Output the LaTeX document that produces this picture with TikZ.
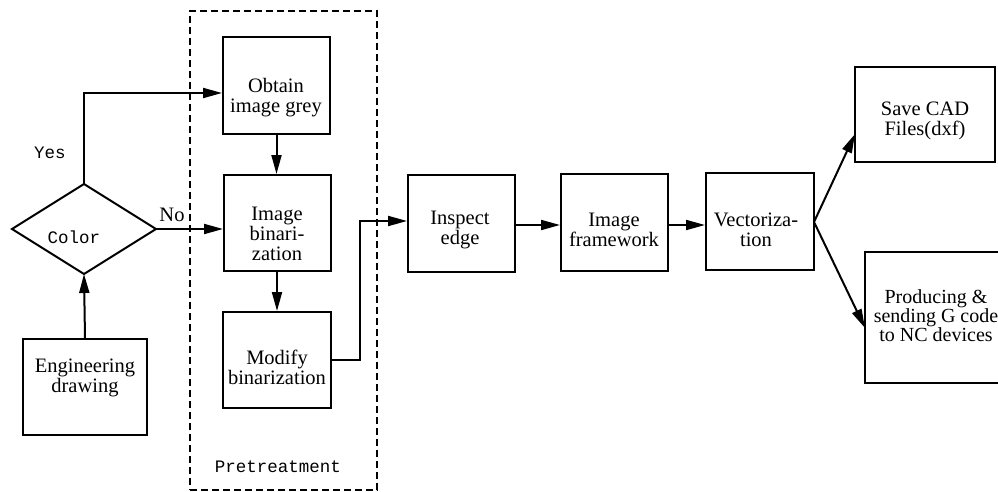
\documentclass[tikz,border=0pt]{standalone}
\usepackage{fontspec}
\setmainfont{Liberation Serif}
\newfontfamily\monofnt{Liberation Mono}
\usetikzlibrary{arrows.meta,calc}
\begin{document}
\begin{tikzpicture}[x=1pt,y=-1pt,
  box/.style={draw, line width=2pt, rectangle, inner sep=0pt},
  lbl/.style={align=center, font=\fontsize{20.5}{20}\selectfont, inner sep=0pt},
  mono/.style={font=\monofnt\fontsize{17.5}{20}\selectfont, inner sep=0pt, anchor=base},
  arr/.style={line width=2pt, -{Triangle[length=19pt,width=10pt]}},
  conn/.style={line width=2pt}]
\useasboundingbox (0,0) rectangle (998,492);
\clip (0,0) rectangle (998,492);

% dashed pretreatment frame
\node[draw, line width=2pt, dash pattern=on 7pt off 4pt, inner sep=0pt,
      minimum width=187pt, minimum height=479pt] (pre) at (283.5,250.5) {};
\node[mono] (tpre) at (278,472) {Pretreatment};

% boxes
\node[box, minimum width=107pt, minimum height=97pt] (obt) at (276.5,85.5) {};
\node[box, minimum width=107pt, minimum height=96pt] (bin) at (277.5,223) {};
\node[box, minimum width=108pt, minimum height=96pt] (mod) at (277,360) {};
\node[box, minimum width=124pt, minimum height=96pt] (eng) at (85,387) {};
\node[box, minimum width=107pt, minimum height=97pt] (insp) at (461.5,223.5) {};
\node[box, minimum width=107pt, minimum height=97pt] (frame) at (614.5,222.5) {};
\node[box, minimum width=108pt, minimum height=97pt] (vec) at (760,221.5) {};
\node[box, minimum width=140pt, minimum height=95pt] (save) at (925,114.5) {};
\node[box, minimum width=142pt, minimum height=131pt] (prod) at (936,317.5) {};

% texts
\node[lbl] (tobt) at (276,97.5) {Obtain\\image grey};
\node[lbl] (tbin) at (277,233.5) {Image\\binari-\\zation};
\node[lbl] (tmod) at (277,367) {Modify\\binarization};
\node[lbl] (teng) at (85,378) {Engineering\\drawing};
\node[lbl] (tinsp) at (460,230) {Inspect\\edge};
\node[lbl] (tframe) at (614,230) {Image\\framework};
\node[lbl] (tvec) at (756,230) {Vectoriza-\\tion};
\node[lbl] (tsave) at (925,120.5) {Save CAD\\Files(dxf)};
\node[lbl, font=\fontsize{20}{18}\selectfont] (tprod) at (936,315.5) {Producing \&\\sending G code\\to NC devices};

% diamond
\coordinate (dc) at (84,229);
\coordinate (dtop) at (84,184);
\coordinate (dbot) at (84,274);
\coordinate (dleft) at (12,229);
\coordinate (dright) at (156,229);
\draw[line width=2pt, line join=miter] (dtop) -- (dright) -- (dbot) -- (dleft) -- cycle;
\node[mono] (tcol) at (74,243) {Color};
\node[mono] (tyes) at (50,158) {Yes};
\node[lbl, anchor=base] (tno) at (172,221) {No};

% connectors
\coordinate (yesy) at (0,93);
\coordinate (loopx) at (360,0);
\coordinate (loopy) at (0,221);
\coordinate (rowy) at (0,225);
\coordinate (savetip) at (855,134);
\coordinate (prodtip) at (865,328);
\coordinate (vecout) at (814,222);

\draw[arr] (eng.north) -- (dbot);
\draw[arr] (dtop) |- (obt.west |- yesy);
\draw[arr] (dright) -- (bin.west |- dright);
\draw[arr] (obt.south) -- (bin.north -| obt.south);
\draw[arr] (bin.south -| mod.north) -- (mod.north);
\draw[arr] (mod.east) -| (loopx |- loopy) -- (insp.west |- loopy);
\draw[arr] (insp.east |- rowy) -- (frame.west |- rowy);
\draw[arr] (frame.east |- rowy) -- (vec.west |- rowy);
\draw[arr] (vecout) -- (savetip);
\draw[arr] (vecout) -- (prodtip);
\end{tikzpicture}
\end{document}
